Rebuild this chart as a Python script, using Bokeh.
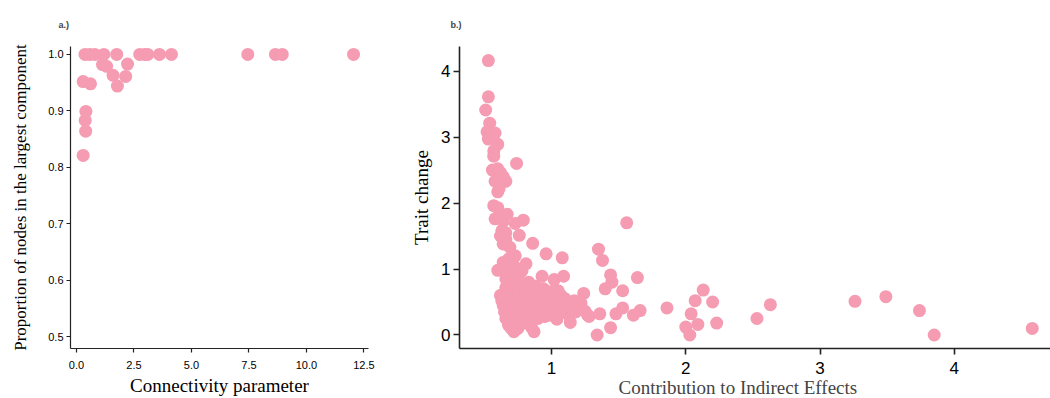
from bokeh.plotting import figure
from bokeh.layouts import row
from bokeh.models import FixedTicker, PrintfTickFormatter, Title
from bokeh.embed import file_html
from bokeh.resources import INLINE

PINK = "#F59BB2"

# ---------------- panel a data ----------------
conn_x = [0.37, 0.58, 0.80, 1.19, 1.75, 2.75, 2.97, 3.10, 3.61, 4.13, 7.45, 8.65, 8.95, 12.05,
          0.29, 0.61, 0.41, 0.38, 0.40, 0.29, 1.13, 1.31, 1.59, 1.78, 2.14, 2.22]
conn_y = [1.0, 1.0, 1.0, 1.0, 1.0, 1.0, 1.0, 1.0, 1.0, 1.0, 1.0, 1.0, 1.0, 1.0,
          0.952, 0.948, 0.899, 0.883, 0.864, 0.821, 0.982, 0.979, 0.963, 0.944, 0.961, 0.983]
a_xticks = [0, 2.5, 5, 7.5, 10, 12.5]
a_yticks = [0.5, 0.6, 0.7, 0.8, 0.9, 1.0]

# ---------------- panel b data ----------------
ind_x = [0.53, 0.53, 0.51, 0.54, 0.52, 0.58, 0.53, 0.55, 0.60, 0.57, 0.57, 0.74, 0.56, 0.62, 0.60, 0.64,
         0.58, 0.66, 0.60, 0.61,
         0.57, 0.60, 0.58, 0.62, 0.67, 0.64, 0.79, 0.73, 0.63, 0.66, 0.76, 0.62, 0.64, 0.69, 0.66, 0.86,
         0.73, 0.96, 1.08, 1.35, 1.38, 1.56, 0.64, 0.68, 0.81, 0.60, 0.65, 0.70, 0.78, 0.72,
         0.93, 1.02, 1.09, 0.83, 0.62, 0.66, 0.70, 0.75, 0.88, 0.94, 1.00, 1.05, 1.24, 1.40, 1.44, 1.45,
         1.53, 1.64,
         0.64, 0.65, 0.66, 0.67, 0.68, 0.68, 0.69, 0.70, 0.70, 0.71, 0.72, 0.72, 0.73, 0.74, 0.75, 0.75,
         0.76, 0.77, 0.78, 0.78, 0.79, 0.80, 0.81, 0.82, 0.83, 0.84, 0.85, 0.86, 0.87, 0.87, 0.88, 0.89,
         0.90, 0.91, 0.92, 0.93, 0.94, 0.95, 0.96, 0.97, 0.98, 0.99, 1.00, 1.01, 1.02, 1.03, 1.04, 1.05,
         1.06, 1.07, 1.08, 1.09, 1.10, 1.11, 1.12, 1.13, 1.14, 1.15, 1.16, 1.17, 1.18, 1.19, 1.20, 1.22,
         1.25, 1.27, 1.28,
         0.63, 0.64, 0.66, 0.67, 0.69, 0.70, 0.71, 0.73, 0.74, 0.76, 0.77, 0.79, 0.80, 0.82, 0.84, 0.86,
         0.88, 0.90, 0.92, 0.95, 0.98, 1.01, 1.04, 1.07, 1.10,
         1.36, 1.48, 1.53, 1.61, 1.66, 1.86, 1.44, 1.34, 2.00, 2.03, 2.04, 2.07, 2.13, 2.20, 2.09, 2.23,
         2.53, 2.63, 3.26, 3.49, 3.74, 3.85, 4.58]
trait_y = [4.16, 3.61, 3.41, 3.21, 3.08, 3.06, 2.97, 3.00, 2.89, 2.79, 2.71, 2.60, 2.50, 2.46, 2.52, 2.40,
           2.33, 2.33, 2.17, 2.22,
           1.96, 1.93, 1.76, 1.78, 1.83, 1.72, 1.74, 1.69, 1.58, 1.55, 1.51, 1.50, 1.38, 1.33, 1.45, 1.39,
           1.20, 1.23, 1.17, 1.30, 1.13, 1.70, 1.10, 1.15, 1.08, 0.98, 1.00, 0.95, 0.97, 1.05,
           0.89, 0.84, 0.89, 0.80, 0.60, 0.85, 0.78, 0.88, 0.74, 0.70, 0.66, 0.67, 0.63, 0.70, 0.91, 0.80,
           0.67, 0.87,
           0.45, 0.35, 0.25, 0.55, 0.65, 0.15, 0.40, 0.30, 0.50, 0.70, 0.20, 0.05, 0.60, 0.38, 0.48, 0.10,
           0.28, 0.58, 0.42, 0.75, 0.18, 0.33, 0.52, 0.62, 0.27, 0.44, 0.12, 0.36, 0.05, 0.55, 0.47, 0.30,
           0.40, 0.60, 0.50, 0.35, 0.45, 0.28, 0.55, 0.42, 0.62, 0.38, 0.48, 0.33, 0.56, 0.44, 0.24, 0.52,
           0.40, 0.60, 0.46, 0.35, 0.55, 0.42, 0.50, 0.30, 0.19, 0.45, 0.38, 0.52, 0.35, 0.44, 0.40, 0.48,
           0.36, 0.30, 0.28,
           0.52, 0.62, 0.72, 0.88, 0.20, 0.10, 0.58, 0.45, 0.82, 0.65, 0.32, 0.50, 0.68, 0.22, 0.58, 0.48,
           0.66, 0.25, 0.40, 0.52, 0.30, 0.58, 0.46, 0.36, 0.48,
           0.32, 0.32, 0.41, 0.30, 0.37, 0.41, 0.11, 0.00, 0.12, 0.00, 0.32, 0.52, 0.68, 0.50, 0.16, 0.18,
           0.25, 0.46, 0.51, 0.58, 0.37, 0.00, 0.10]
b_xticks = [1, 2, 3, 4]
b_yticks = [0, 1, 2, 3, 4]


def style(p, tick_size, label_size, tick_out, line_w):
    p.outline_line_color = None
    p.xgrid.grid_line_color = None
    p.ygrid.grid_line_color = None
    p.background_fill_color = "white"
    p.border_fill_color = "white"
    for ax in (p.xaxis, p.yaxis):
        ax.axis_line_color = "#222222"
        ax.axis_line_width = line_w
        ax.major_tick_line_color = "#222222"
        ax.major_tick_line_width = line_w
        ax.major_tick_out = tick_out
        ax.major_tick_in = 0
        ax.minor_tick_line_color = None
        ax.major_label_text_font = "Liberation Sans"
        ax.major_label_text_font_size = tick_size
        ax.major_label_text_color = "black"
        ax.axis_label_text_font = "Liberation Serif"
        ax.axis_label_text_font_size = label_size
        ax.axis_label_text_font_style = "normal"
        ax.axis_label_text_color = "black"
        ax.major_label_standoff = 3
        ax.axis_label_standoff = 6
    p.title.text_font = "Liberation Sans"
    p.title.text_font_style = "bold"
    p.title.text_font_size = "9px"
    p.title.align = "left"
    p.title.standoff = 34


pa = figure(width=380, height=398, x_range=(-0.26, 12.7), y_range=(0.4788, 1.0141),
            output_backend="svg", toolbar_location=None, title="a.)",
            min_border_left=70, min_border_right=12, min_border_top=45, min_border_bottom=50,
            x_axis_label="Connectivity parameter",
            y_axis_label="Proportion of nodes in the largest component")
style(pa, "11px", "17px", 4, 1.2)
pa.xaxis.axis_label_text_font_size = "19px"
pa.xaxis.major_label_standoff = 8
pa.xaxis.axis_label_standoff = 3
pa.yaxis.axis_label_standoff = 15
pa.title.offset = -12
pa.xaxis.ticker = FixedTicker(ticks=a_xticks)
pa.yaxis.ticker = FixedTicker(ticks=a_yticks)
pa.xaxis.formatter = PrintfTickFormatter(format="%.1f")
pa.yaxis.formatter = PrintfTickFormatter(format="%.1f")
pa.scatter(conn_x, conn_y, size=13, fill_color=PINK, line_color=None)

pb = figure(width=670, height=398, x_range=(0.315, 4.716), y_range=(-0.205, 4.373),
            output_backend="svg", toolbar_location=None, title="b.)",
            min_border_left=79, min_border_right=0, min_border_top=45, min_border_bottom=50,
            y_axis_label="Trait change")
style(pb, "17px", "19px", 6, 1.6)
pb.title.offset = -9
pb.xaxis.major_label_standoff = 7
pb.xaxis.ticker = FixedTicker(ticks=b_xticks)
pb.yaxis.ticker = FixedTicker(ticks=b_yticks)
xlab = Title(text="Contribution to Indirect Effects", align="left", offset=159,
             text_font="Liberation Serif", text_font_size="19px",
             text_font_style="normal", standoff=-3)
pb.add_layout(xlab, "below")
pb.scatter(ind_x, trait_y, size=13, fill_color=PINK, line_color=None)

layout = row(pa, pb)
open("out.html", "w").write(file_html(layout, INLINE))
